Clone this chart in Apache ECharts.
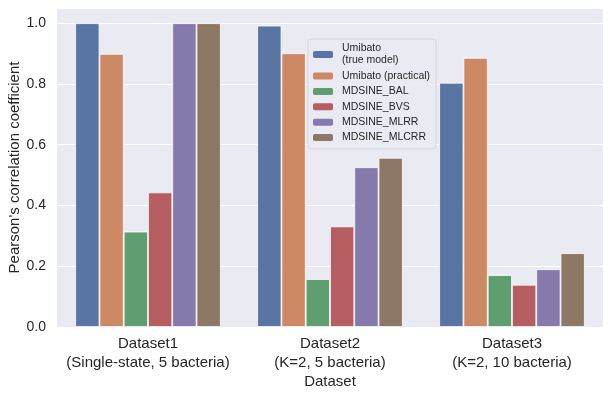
<!DOCTYPE html>
<html><head><meta charset="utf-8">
<script src="https://cdn.jsdelivr.net/npm/echarts@6/dist/echarts.min.js"></script>
<style>html,body{margin:0;padding:0;background:#fff}#c{width:610px;height:396px}</style>
</head><body><div id="c"></div>
<script>
const categories = ['Dataset1\n(Single-state, 5 bacteria)', 'Dataset2\n(K=2, 5 bacteria)', 'Dataset3\n(K=2, 10 bacteria)'];
const seriesNames = ['Umibato\n(true model)', 'Umibato (practical)', 'MDSINE_BAL', 'MDSINE_BVS', 'MDSINE_MLRR', 'MDSINE_MLCRR'];
const umibatoTrue = [1.0, 0.992, 0.804];
const umibatoPractical = [0.899, 0.901, 0.886];
const mdsineBAL = [0.314, 0.158, 0.171];
const mdsineBVS = [0.443, 0.331, 0.139];
const mdsineMLRR = [1.0, 0.526, 0.190];
const mdsineMLCRR = [1.0, 0.557, 0.243];
const colors = ['#5975a4', '#cc8963', '#5f9e6e', '#b55d60', '#857aab', '#8d7866'];
const values = [umibatoTrue, umibatoPractical, mdsineBAL, mdsineBVS, mdsineMLRR, mdsineMLCRR];
const FONT = '"Liberation Sans", Arial, sans-serif';
const chart = echarts.init(document.getElementById('c'));
chart.setOption({
  backgroundColor: '#fff',
  animation: false,
  color: colors,
  textStyle: {fontFamily: FONT},
  grid: {left: 57, right: 7, top: 8, bottom: 69, show: true, backgroundColor: '#EAEAF2', borderWidth: 0,
         containLabel: false, outerBoundsMode: 'none'},
  legend: {
    orient: 'vertical', left: 308, top: 39,
    itemWidth: 20, itemHeight: 7, itemGap: 3,
    backgroundColor: 'rgba(234,234,242,0.85)', borderColor: '#d4d4dc', borderWidth: 1, borderRadius: 3,
    padding: [3, 6, 5, 5],
    textStyle: {fontSize: 10.5, color: '#262626', fontFamily: FONT, lineHeight: 12.4, padding: [0, 0, 0, 4]},
    itemStyle: {borderWidth: 0},
    data: seriesNames
  },
  xAxis: {
    type: 'category', data: categories,
    axisLine: {show: false}, axisTick: {show: false},
    axisLabel: {fontSize: 15, lineHeight: 19, color: '#262626', margin: 7, interval: 0, fontFamily: FONT},
    name: 'Dataset', nameLocation: 'middle', nameGap: 47, nameMoveOverlap: false,
    nameTextStyle: {fontSize: 15, color: '#262626', fontFamily: FONT}
  },
  yAxis: {
    type: 'value', min: 0, max: 1.05, interval: 0.2,
    axisLine: {show: false}, axisTick: {show: false},
    splitLine: {lineStyle: {color: '#ffffff', width: 1}},
    axisLabel: {fontSize: 14, color: '#262626', margin: 11, fontFamily: FONT,
      formatter: v => (Math.abs(v * 5 - Math.round(v * 5)) < 1e-6 ? v.toFixed(1) : '')},
    name: "Pearson's correlation coefficient", nameLocation: 'middle', nameGap: 35, nameMoveOverlap: false,
    nameTextStyle: {fontSize: 15, color: '#262626', fontFamily: FONT}
  },
  series: seriesNames.map((n, i) => ({
    name: n, type: 'bar', data: values[i],
    barGap: '0%', barCategoryGap: '20%',
    itemStyle: {color: colors[i], borderColor: '#ffffff', borderWidth: 0.8}
  }))
});
</script></body></html>
